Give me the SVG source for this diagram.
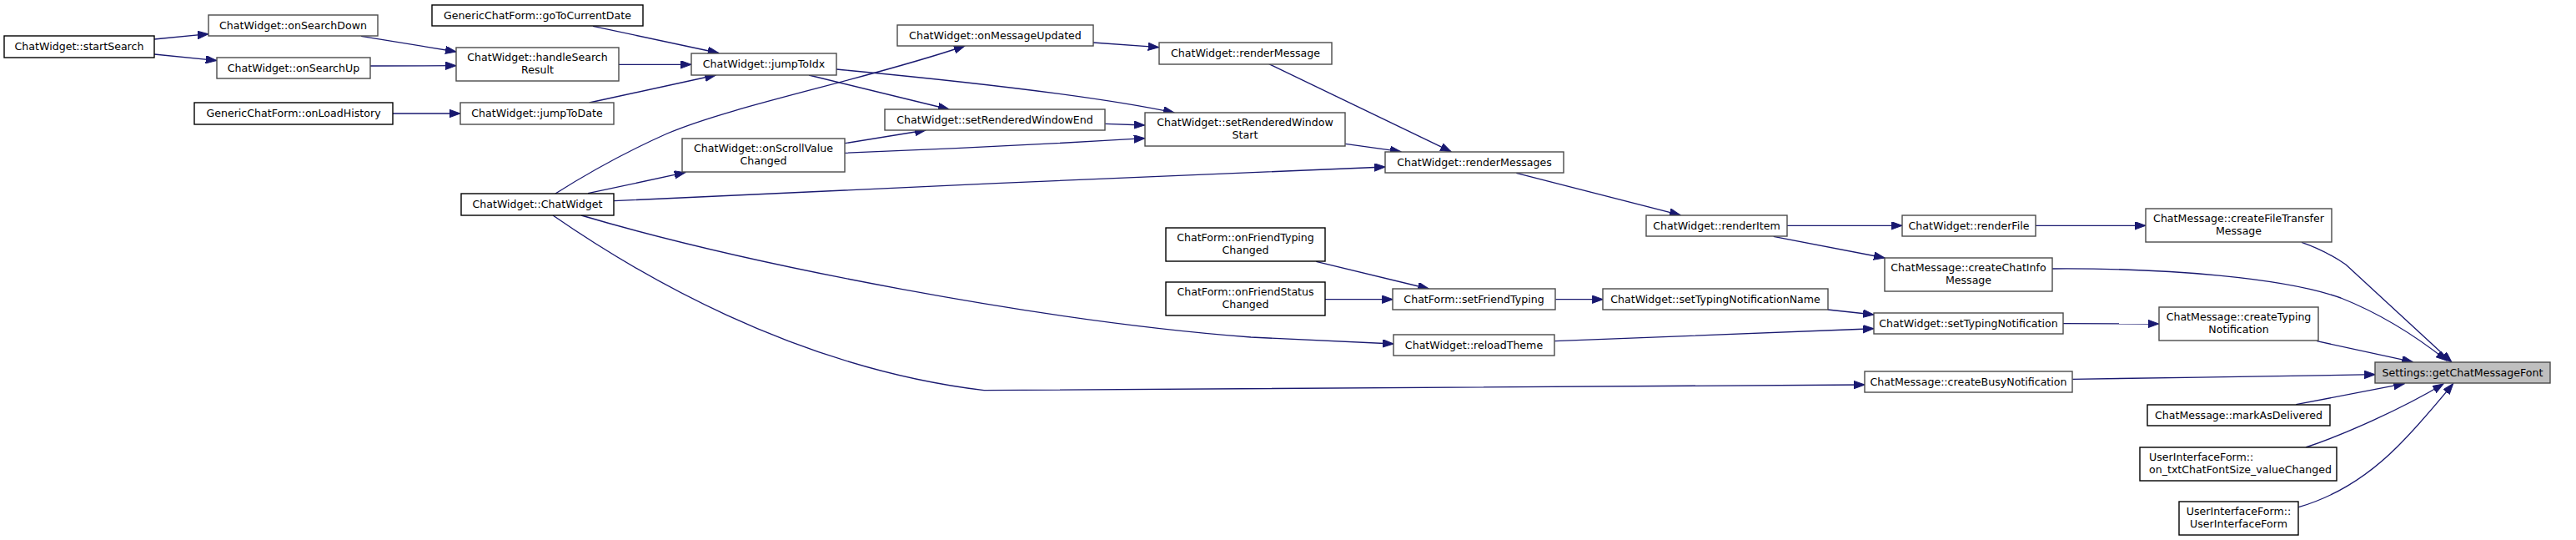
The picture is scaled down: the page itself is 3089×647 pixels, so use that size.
<svg xmlns="http://www.w3.org/2000/svg" width="3089" height="647" viewBox="0 0 3089 647">
<style>
text{font-family:"DejaVu Sans","Liberation Sans",sans-serif;font-size:12.6px;fill:#000;text-anchor:middle}
.nb{fill:#fff;stroke:#000;stroke-width:1.4}
.ng{fill:#fff;stroke:#4a4a4a;stroke-width:1.4}
.root{fill:#bfbfbf;stroke:#4a4a4a;stroke-width:1.4}
.e{fill:none;stroke:#191970;stroke-width:1.33;marker-end:url(#ah)}
</style>
<defs>
<marker id="ah" markerUnits="userSpaceOnUse" markerWidth="14" markerHeight="10" refX="13" refY="4.7" orient="auto">
<path d="M0,0 L13,4.7 L0,9.4 z" fill="#191970" stroke="#191970" stroke-width="1"/>
</marker>
</defs>
<rect width="3089" height="647" fill="#fff"/>
<g id="connectors">
<path class="e" d="M185,47 L250,40.7"/>
<path class="e" d="M185,65 L259.7,72.5"/>
<path class="e" d="M433,43.3 L547,62"/>
<path class="e" d="M444,79 L547,78.7"/>
<path class="e" d="M471,136 L552,136"/>
<path class="e" d="M711,31.3 L861.7,63.5"/>
<path class="e" d="M742,77.3 L829,77.3"/>
<path class="e" d="M706.7,123 L858.3,90"/>
<path class="e" d="M666,232 C715,201 755,180 800,160 C880,126 1040,95 1157,55"/>
<path class="e" d="M970,90 L1138,131"/>
<path class="e" d="M1003,83 C1120,94 1300,112 1408,135"/>
<path class="e" d="M1013.3,171.7 L1110,156"/>
<path class="e" d="M1013.3,183.3 C1150,178 1300,170 1372.7,165.7"/>
<path class="e" d="M1325.3,148.3 L1372.7,150"/>
<path class="e" d="M1310.7,51 L1389.7,56.7"/>
<path class="e" d="M1521.7,76.7 L1740,181.7"/>
<path class="e" d="M1613.3,172.3 L1680,181.7"/>
<path class="e" d="M736.3,240.7 C1000,229 1400,209 1661,200"/>
<path class="e" d="M1818.3,207.3 L2015,257.7"/>
<path class="e" d="M2143,270.3 L2281,270.3"/>
<path class="e" d="M2126.7,283.3 L2260,309"/>
<path class="e" d="M2441,270.3 L2573,270.3"/>
<path class="e" d="M2760,290.3 C2785,299 2800,308 2813,317 L2940,434"/>
<path class="e" d="M2461,322 C2600,321 2740,333 2807,357 C2860,378 2900,405 2934,432"/>
<path class="e" d="M2191.7,371 L2247,377"/>
<path class="e" d="M1865.3,358.7 L1922.3,358.7"/>
<path class="e" d="M1578.3,313.3 L1713.3,346"/>
<path class="e" d="M1588.7,358.7 L1670.3,358.7"/>
<path class="e" d="M697,258 C900,318 1250,385 1500,404 L1671,412"/>
<path class="e" d="M663,258 C760,325 950,440 1180,467.7 L2236,461"/>
<path class="e" d="M705,231.7 L821.7,206.7"/>
<path class="e" d="M1864.3,408.7 C1950,405 2100,400 2247,393.7"/>
<path class="e" d="M2474,387.7 L2588.7,388"/>
<path class="e" d="M2778.3,408.7 L2893.3,433.7"/>
<path class="e" d="M2485.3,454.3 C2600,453 2750,450 2848.3,448.7"/>
<path class="e" d="M2753.3,484.7 L2883.3,459.7"/>
<path class="e" d="M2765,536 C2810,521 2880,490 2930,460"/>
<path class="e" d="M2756.3,607.7 C2800,595 2840,570 2875,535 C2900,510 2925,480 2941.7,459.7"/>
</g>
<g id="n1"><rect class="nb" x="5" y="43" width="180" height="26"/><text x="95" y="59.5">ChatWidget::startSearch</text></g>
<g id="n2"><rect class="ng" x="250" y="18" width="203" height="25"/><text x="351.5" y="34.5">ChatWidget::onSearchDown</text></g>
<g id="n3"><rect class="ng" x="260" y="69" width="184" height="25"/><text x="352" y="85.5">ChatWidget::onSearchUp</text></g>
<g id="n4"><rect class="nb" x="233" y="123" width="238" height="26"/><text x="352" y="139.5">GenericChatForm::onLoadHistory</text></g>
<g id="n5"><rect class="nb" x="518" y="6" width="253" height="25"/><text x="644.5" y="22.5">GenericChatForm::goToCurrentDate</text></g>
<g id="n6"><rect class="ng" x="547" y="57" width="195" height="40"/><text x="644.5" y="73">ChatWidget::handleSearch</text><text x="644.5" y="88">Result</text></g>
<g id="n7"><rect class="ng" x="552" y="123" width="184" height="26"/><text x="644" y="139.5">ChatWidget::jumpToDate</text></g>
<g id="n8"><rect class="ng" x="829" y="64" width="174" height="26"/><text x="916" y="80.5">ChatWidget::jumpToIdx</text></g>
<g id="n9"><rect class="ng" x="818" y="166" width="195" height="40"/><text x="915.5" y="182">ChatWidget::onScrollValue</text><text x="915.5" y="197">Changed</text></g>
<g id="n10"><rect class="nb" x="553" y="232" width="183" height="26"/><text x="644.5" y="248.5">ChatWidget::ChatWidget</text></g>
<g id="n11"><rect class="ng" x="1076" y="30" width="235" height="25"/><text x="1193.5" y="46.5">ChatWidget::onMessageUpdated</text></g>
<g id="n12"><rect class="ng" x="1390" y="51" width="207" height="26"/><text x="1493.5" y="67.5">ChatWidget::renderMessage</text></g>
<g id="n13"><rect class="ng" x="1061" y="131" width="264" height="25"/><text x="1193" y="147.5">ChatWidget::setRenderedWindowEnd</text></g>
<g id="n14"><rect class="ng" x="1373" y="135" width="240" height="40"/><text x="1493" y="151">ChatWidget::setRenderedWindow</text><text x="1493" y="166">Start</text></g>
<g id="n15"><rect class="nb" x="1398" y="273" width="191" height="40"/><text x="1493.5" y="289">ChatForm::onFriendTyping</text><text x="1493.5" y="304">Changed</text></g>
<g id="n16"><rect class="ng" x="1661" y="182" width="214" height="25"/><text x="1768" y="198.5">ChatWidget::renderMessages</text></g>
<g id="n17"><rect class="ng" x="1974" y="258" width="169" height="25"/><text x="2058.5" y="274.5">ChatWidget::renderItem</text></g>
<g id="n18"><rect class="ng" x="2281" y="258" width="160" height="25"/><text x="2361" y="274.5">ChatWidget::renderFile</text></g>
<g id="n19"><rect class="ng" x="2260" y="309" width="201" height="40"/><text x="2360.5" y="325">ChatMessage::createChatInfo</text><text x="2360.5" y="340">Message</text></g>
<g id="n20"><rect class="ng" x="2573" y="250" width="223" height="40"/><text x="2684.5" y="266">ChatMessage::createFileTransfer</text><text x="2684.5" y="281">Message</text></g>
<g id="n21"><rect class="nb" x="1398" y="338" width="191" height="40"/><text x="1493.5" y="354">ChatForm::onFriendStatus</text><text x="1493.5" y="369">Changed</text></g>
<g id="n22"><rect class="ng" x="1670" y="346" width="195" height="25"/><text x="1767.5" y="362.5">ChatForm::setFriendTyping</text></g>
<g id="n23"><rect class="ng" x="1922" y="346" width="270" height="25"/><text x="2057" y="362.5">ChatWidget::setTypingNotificationName</text></g>
<g id="n24"><rect class="ng" x="1671" y="401" width="193" height="25"/><text x="1767.5" y="417.5">ChatWidget::reloadTheme</text></g>
<g id="n25"><rect class="ng" x="2247" y="375" width="227" height="25"/><text x="2360.5" y="391.5">ChatWidget::setTypingNotification</text></g>
<g id="n26"><rect class="ng" x="2236" y="445" width="249" height="25"/><text x="2360.5" y="461.5">ChatMessage::createBusyNotification</text></g>
<g id="n27"><rect class="ng" x="2589" y="368" width="191" height="40"/><text x="2684.5" y="384">ChatMessage::createTyping</text><text x="2684.5" y="399">Notification</text></g>
<g id="n28"><rect class="root" x="2848" y="434" width="210" height="25"/><text x="2953" y="450.5">Settings::getChatMessageFont</text></g>
<g id="n29"><rect class="nb" x="2575" y="485" width="219" height="25"/><text x="2684.5" y="501.5">ChatMessage::markAsDelivered</text></g>
<g id="n30"><rect class="nb" x="2566" y="536" width="236" height="40"/><text x="2577" y="552" style="text-anchor:start">UserInterfaceForm::</text><text x="2577" y="567" style="text-anchor:start">on_txtChatFontSize_valueChanged</text></g>
<g id="n31"><rect class="nb" x="2613" y="601" width="143" height="40"/><text x="2684.5" y="617">UserInterfaceForm::</text><text x="2684.5" y="632">UserInterfaceForm</text></g>
</svg>
